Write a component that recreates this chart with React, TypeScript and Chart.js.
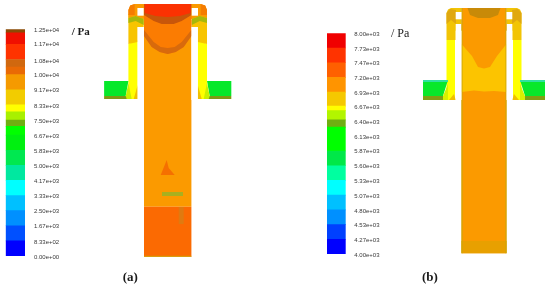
import React, { useEffect, useRef } from "react";
import { Chart, registerables } from "chart.js";

Chart.register(...registerables);

type Pt = [number, number];
type Region = { pts: Pt[]; color: string; mirror?: boolean };

// ---------- colour scales ----------
const tickLevelsA = [12500, 11700, 10800, 10000, 9170, 8330, 7500, 6670, 5830, 5000, 4170, 3330, 2500, 1670, 833, 0];
const tickLabelsA = ["1.25e+04", "1.17e+04", "1.08e+04", "1.00e+04", "9.17e+03", "8.33e+03", "7.50e+03", "6.67e+03", "5.83e+03", "5.00e+03", "4.17e+03", "3.33e+03", "2.50e+03", "1.67e+03", "8.33e+02", "0.00e+00"];
const bandEdgesA = [0, 833, 1667, 2500, 3333, 4167, 5000, 5833, 6667, 7150, 7500, 7950, 8333, 9167, 10000, 10420, 10833, 11667, 12300, 12500];
const bandColorsA = ["#0000ff", "#0050ff", "#0090ff", "#00c0ff", "#00ffff", "#00e8a0", "#00e850", "#00f010", "#00ff00", "#6fae12", "#a8f000", "#ffff00", "#f2cc00", "#f59a00", "#e96a05", "#d0680f", "#ff3300", "#f01000", "#8a4a05"];

const tickLevelsB = [8000, 7730, 7470, 7200, 6930, 6670, 6400, 6130, 5870, 5600, 5330, 5070, 4800, 4530, 4270, 4000];
const tickLabelsB = ["8.00e+03", "7.73e+03", "7.47e+03", "7.20e+03", "6.93e+03", "6.67e+03", "6.40e+03", "6.13e+03", "5.87e+03", "5.60e+03", "5.33e+03", "5.07e+03", "4.80e+03", "4.53e+03", "4.27e+03", "4.00e+03"];
const bandEdgesB = [4000, 4267, 4533, 4800, 5067, 5333, 5600, 5867, 6300, 6430, 6600, 6680, 6933, 7200, 7467, 7733, 8000];
const bandColorsB = ["#0000ff", "#0040ff", "#0090ff", "#00c0ff", "#00ffff", "#00ffa0", "#00e848", "#00ff00", "#6fae12", "#b2f500", "#ffff00", "#f5c800", "#ff9400", "#ff6000", "#ff3300", "#f00000"];

// ---------- contour (a): x from mould axis, y = depth, half shapes are mirrored ----------
const armYellowA: Pt[] = [[30, 40], [39.3, 44], [39.3, 99], [30, 99]];
const armAmberA: Pt[] = [[24, 16], [39.3, 14], [39.3, 44], [30, 42], [30, 27], [24, 27]];
const armLimeA: Pt[] = [[24, 19], [32, 16], [39.3, 18], [39.3, 23], [32, 21], [24, 25]];
const capOrangeA: Pt[] = [[0, 4], [33, 4], [37.5, 5.5], [39.3, 10], [39.3, 18], [32, 16], [24, 19], [0, 19]];
const capCornerA: Pt[] = [[33, 4], [37.5, 5.5], [39.3, 10], [39.3, 15], [33, 15]];
const flangeGreenA: Pt[] = [[39.3, 81], [63.6, 81], [63.6, 96], [42, 96]];
const flangeStripA: Pt[] = [[39, 96], [63.6, 96], [63.6, 99], [39, 99]];
const wedgeLimeA: Pt[] = [[39.3, 83], [42, 96], [41, 99], [36, 99]];
const wedgeAmberA: Pt[] = [[30, 85], [34, 99], [30, 99]];
const stemMidA: Pt[] = [[-23.7, 20], [23.7, 20], [23.7, 206.7], [-23.7, 206.7]];
const stemUpperA: Pt[] = [[-23.7, 15], [23.7, 15], [23.7, 36], [16, 47], [8, 52], [0, 54], [-8, 52], [-16, 47], [-23.7, 36]];
const stemLensA: Pt[] = [[23.7, 30], [14, 42], [7, 47], [0, 48], [-7, 47], [-14, 42], [-23.7, 30], [-23.7, 36], [-16, 47], [-8, 52], [0, 54], [8, 52], [16, 47], [23.7, 36]];
const stemDomeDarkA: Pt[] = [[-23.7, 4], [23.7, 4], [23.7, 15], [14, 21], [6, 24], [-6, 24], [-14, 21], [-23.7, 15]];
const stemDomeA: Pt[] = [[-23, 4], [23, 4], [23, 13], [12, 16], [0, 17], [-12, 16], [-23, 13]];
const stemLowerA: Pt[] = [[-23.7, 206.7], [23.7, 206.7], [23.7, 256.7], [-23.7, 256.7]];
const stemBaseA: Pt[] = [[-23.7, 255.7], [23.7, 255.7], [23.7, 256.7], [-23.7, 256.7]];
const stemStreakA: Pt[] = [[11, 207], [16, 207], [16, 224], [11, 224]];
const stemBarA: Pt[] = [[-5.7, 192], [15.3, 192], [15.3, 196], [-5.7, 196]];
const stemNotchA: Pt[] = [[-1, 160], [1, 168], [7, 175], [-7, 175]];
const holeA: Pt[] = [[24, 8], [30.3, 8], [30.3, 15.7], [24, 15.7]];
const slitA: Pt[] = [[23.7, 27], [30.2, 27], [30.2, 100], [23.7, 100]];

const regionsA: Region[] = [
  { pts: armYellowA, color: "#ffff00", mirror: true },
  { pts: armAmberA, color: "#f7c400", mirror: true },
  { pts: capOrangeA, color: "#fb9a00", mirror: true },
  { pts: capCornerA, color: "#f57c00", mirror: true },
  { pts: armLimeA, color: "#a8b80a", mirror: true },
  { pts: flangeGreenA, color: "#05e82a", mirror: true },
  { pts: flangeStripA, color: "#7d9a14", mirror: true },
  { pts: wedgeLimeA, color: "#c9f000", mirror: true },
  { pts: wedgeAmberA, color: "#f0c000", mirror: true },
  { pts: stemMidA, color: "#fb9a00" },
  { pts: stemUpperA, color: "#fb7c02" },
  { pts: stemLensA, color: "#d86a0c" },
  { pts: stemDomeDarkA, color: "#c8560a" },
  { pts: stemDomeA, color: "#fb3202" },
  { pts: stemLowerA, color: "#fb6a02" },
  { pts: stemStreakA, color: "#e07a10" },
  { pts: stemBaseA, color: "#d0a000" },
  { pts: stemBarA, color: "#a8b020" },
  { pts: stemNotchA, color: "#f57000" },
  { pts: holeA, color: "#ffffff", mirror: true },
  { pts: slitA, color: "#ffffff", mirror: true },
];

// ---------- contour (b) ----------
const armYellowB: Pt[] = [[29, 40], [37.5, 40], [37.5, 100], [29, 100]];
const armAmberB: Pt[] = [[22.5, 8], [33, 8], [36, 9.5], [37.5, 13], [37.5, 40], [28.3, 40], [28.3, 24], [22.5, 24]];
const capOliveB: Pt[] = [[28, 10], [34, 9], [37.5, 13], [37.5, 24], [33, 20], [28, 24]];
const flangeGreenB: Pt[] = [[36, 80], [61, 80], [61, 96], [41, 96]];
const flangeTopB: Pt[] = [[36, 80], [61, 80], [61, 82], [36, 82]];
const flangeStripB: Pt[] = [[41, 96], [61, 96], [61, 100], [41, 100]];
const wedgeLimeB: Pt[] = [[36, 84], [41, 96], [41, 100], [36, 100]];
const wedgeAmberB: Pt[] = [[30, 94], [35, 100], [28.3, 100]];
const stemOrangeB: Pt[] = [[-22.5, 8], [22.5, 8], [22.5, 253.3], [-22.5, 253.3]];
const stemAmberB: Pt[] = [[22.5, 44], [13, 56], [6, 67], [0, 68.5], [-6, 67], [-12, 56], [-22.5, 44], [-22.5, 92], [-10, 90.5], [0, 91.5], [10, 91], [22.5, 92]];
const stemLensB: Pt[] = [[-16.5, 8], [16.5, 8], [14, 15], [6, 18], [-6, 18], [-14, 15]];
const stemFootB: Pt[] = [[-22.5, 241], [22.5, 241], [22.5, 253.3], [-22.5, 253.3]];
const stemRimLeftB: Pt[] = [[-22.5, 8], [-21.5, 8], [-21.5, 253.3], [-22.5, 253.3]];
const stemRimRightB: Pt[] = [[21.5, 8], [22.5, 8], [22.5, 253.3], [21.5, 253.3]];
const holeB: Pt[] = [[22.5, 12], [28.3, 12], [28.3, 19.3], [22.5, 19.3]];
const slitB: Pt[] = [[22.5, 30.7], [28.3, 30.7], [28.3, 100], [22.5, 100]];

const regionsB: Region[] = [
  { pts: armYellowB, color: "#ffff00", mirror: true },
  { pts: armAmberB, color: "#f2c405", mirror: true },
  { pts: capOliveB, color: "#e0a810", mirror: true },
  { pts: flangeGreenB, color: "#08e82a", mirror: true },
  { pts: flangeTopB, color: "#30e0a0", mirror: true },
  { pts: flangeStripB, color: "#80a014", mirror: true },
  { pts: wedgeLimeB, color: "#d8f000", mirror: true },
  { pts: wedgeAmberB, color: "#f0c000", mirror: true },
  { pts: stemOrangeB, color: "#fb9a00" },
  { pts: stemAmberB, color: "#fcc400" },
  { pts: stemLensB, color: "#c88a08" },
  { pts: stemFootB, color: "#e8a000" },
  { pts: stemRimLeftB, color: "#c8a808" },
  { pts: stemRimRightB, color: "#c8a808" },
  { pts: holeB, color: "#ffffff", mirror: true },
  { pts: slitB, color: "#ffffff", mirror: true },
];

const unitLabel = "/ Pa";
const captionA = "(a)";
const captionB = "(b)";
const softEdge = "blur(0.45px)";

function contourDatasets(regions: Region[]) {
  const list: any[] = [];
  for (const r of regions) {
    const shapes = r.mirror ? [r.pts, r.pts.map(([x, y]) => [-x, y] as Pt)] : [r.pts];
    for (const s of shapes) {
      list.push({
        data: s.map(([x, y]) => ({ x, y })),
        showLine: false,
        backgroundColor: r.color,
        pointRadius: 0,
      });
    }
  }
  return list;
}

// fills each dataset's outline through the positions the scales computed for its points
const polygonFill = {
  id: "polygonFill",
  afterDatasetsDraw(c: any) {
    const ctx = c.ctx;
    c.data.datasets.forEach((ds: any, i: number) => {
      const pts = c.getDatasetMeta(i).data;
      ctx.beginPath();
      pts.forEach((p: any, k: number) => (k ? ctx.lineTo(p.x, p.y) : ctx.moveTo(p.x, p.y)));
      ctx.closePath();
      ctx.fillStyle = ds.backgroundColor;
      ctx.fill();
    });
  },
};

type Note = { text: string; x: number; y: number; font: string };

function ContourPanel(props: { regions: Region[]; left: number; axisX: number; notes: Note[] }) {
  const ref = useRef<HTMLCanvasElement>(null);
  useEffect(() => {
    const chart = new Chart(ref.current!, {
      type: "scatter",
      data: { datasets: contourDatasets(props.regions) },
      options: {
        animation: false,
        responsive: false,
        devicePixelRatio: 1,
        layout: { padding: 0 },
        plugins: { legend: { display: false }, tooltip: { enabled: false } },
        scales: {
          x: { type: "linear", display: false, min: -props.axisX, max: 275 - props.axisX },
          y: { type: "linear", display: false, min: 0, max: 291, reverse: true },
        },
      },
      plugins: [
        polygonFill,
        {
          id: "notes",
          afterDraw(c: any) {
            const ctx = c.ctx;
            ctx.save();
            ctx.fillStyle = "#1a1a1a";
            ctx.textAlign = "left";
            ctx.textBaseline = "middle";
            for (const n of props.notes) {
              ctx.font = n.font;
              ctx.fillText(n.text, c.scales.x.getPixelForValue(n.x), c.scales.y.getPixelForValue(n.y));
            }
            ctx.restore();
          },
        },
      ],
    } as any);
    return () => chart.destroy();
  }, []);
  return <canvas ref={ref} width={275} height={291} style={{ position: "absolute", left: props.left, top: 0, width: 275, height: 291, filter: softEdge }} />;
}

function ColorBar(props: {
  left: number; width: number; barLeft: number; barWidth: number; top: number; bottom: number;
  edges: number[]; colors: string[]; levels: number[]; labels: string[]; labelGap: number;
}) {
  const ref = useRef<HTMLCanvasElement>(null);
  useEffect(() => {
    const { edges, colors, levels, labels } = props;
    const chart = new Chart(ref.current!, {
      type: "bar",
      data: {
        labels: ["scale"],
        datasets: colors.map((c, i) => ({
          data: [[edges[i], edges[i + 1]]],
          backgroundColor: c,
          borderWidth: 0,
          grouped: false,
          barPercentage: 1,
          categoryPercentage: 1,
        })),
      },
      options: {
        animation: false,
        responsive: false,
        devicePixelRatio: 1,
        layout: { padding: { left: props.barLeft, top: props.top, bottom: 291 - props.bottom, right: 0 } },
        plugins: { legend: { display: false }, tooltip: { enabled: false } },
        scales: {
          x: { display: false },
          y: {
            position: "right",
            min: edges[0],
            max: edges[edges.length - 1],
            grid: { display: false, drawTicks: false },
            border: { display: false },
            afterBuildTicks(scale: any) {
              scale.ticks = levels.map((value) => ({ value }));
            },
            afterFit(scale: any) {
              scale.width = props.width - props.barLeft - props.barWidth;
            },
            ticks: {
              autoSkip: false,
              padding: props.labelGap,
              labelOffset: 1,
              color: "#3a3a3a",
              font: { family: "'Liberation Sans'", size: 6 },
              callback: (v: any) => labels[levels.indexOf(v)] ?? "",
            },
          },
        },
      },
    } as any);
    return () => chart.destroy();
  }, []);
  return <canvas ref={ref} width={props.width} height={291} style={{ position: "absolute", left: props.left, top: 0, width: props.width, height: 291, filter: softEdge }} />;
}

export default function App() {
  const serif = "'Liberation Serif'";
  return (
    <div style={{ position: "fixed", left: 0, top: 0, width: 550, height: 291, background: "#fff", overflow: "hidden" }}>
      <ContourPanel
        regions={regionsA}
        left={0}
        axisX={167.7}
        notes={[
          { text: unitLabel, x: -96, y: 32, font: `bold 11px ${serif}` },
          { text: captionA, x: -45, y: 278, font: `bold 13px ${serif}` },
        ]}
      />
      <ContourPanel
        regions={regionsB}
        left={275}
        axisX={209}
        notes={[
          { text: unitLabel, x: -93, y: 34, font: `12px ${serif}` },
          { text: captionB, x: -62, y: 278, font: `bold 13px ${serif}` },
        ]}
      />
      <ColorBar left={0} width={72} barLeft={5.7} barWidth={19.3} top={29.3} bottom={256} edges={bandEdgesA} colors={bandColorsA} levels={tickLevelsA} labels={tickLabelsA} labelGap={9} />
      <ColorBar left={275} width={125} barLeft={52} barWidth={18.7} top={33.3} bottom={254} edges={bandEdgesB} colors={bandColorsB} levels={tickLevelsB} labels={tickLabelsB} labelGap={8.6} />
    </div>
  );
}
